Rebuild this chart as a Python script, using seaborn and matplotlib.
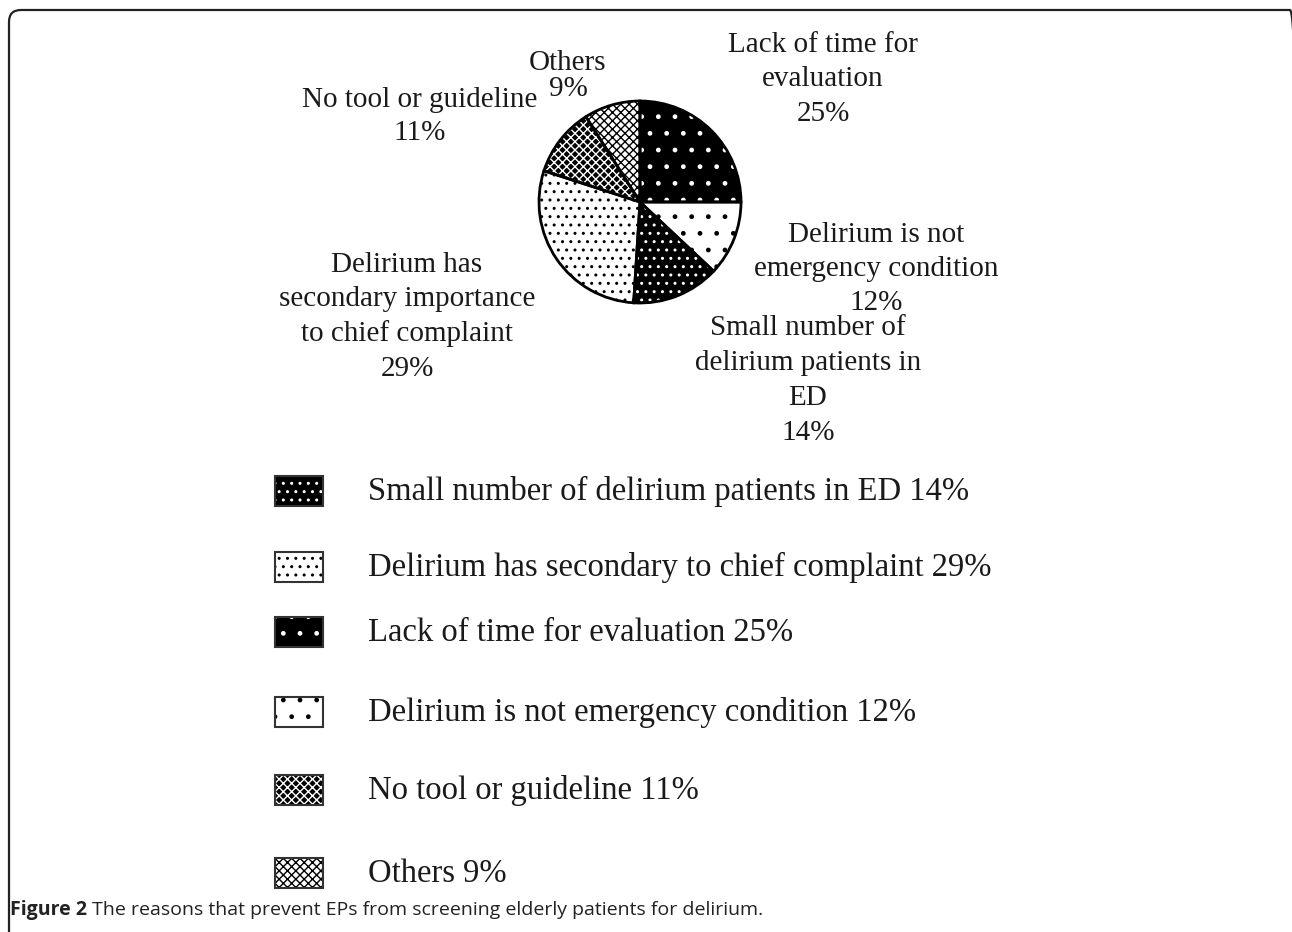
import matplotlib
matplotlib.use("Agg")
import matplotlib.pyplot as plt
import seaborn as sns
from matplotlib.patches import Rectangle, FancyBboxPatch
from matplotlib.transforms import IdentityTransform

# pie data, clockwise from 12 o'clock
reasons = ["Lack of time for\nevaluation",
           "Delirium is not\nemergency condition",
           "Small number of\ndelirium patients in\nED",
           "Delirium has\nsecondary importance\nto chief complaint",
           "No tool or guideline",
           "Others"]
shares = [25, 12, 14, 29, 11, 9]

# legend (its own wording and order)
legend_idx = [2, 3, 0, 1, 4, 5]
legend_names = ["Small number of delirium patients in ED",
                "Delirium has secondary to chief complaint",
                "Lack of time for evaluation",
                "Delirium is not emergency condition",
                "No tool or guideline",
                "Others"]

caption_bold = "Figure 2"
caption_rest = " The reasons that prevent EPs from screening elderly patients for delirium."

# face colour, hatch colour, hatch per slice
fills = [("black", "white", "."),
         ("white", "black", "."),
         ("black", "white", ".."),
         ("white", "black", ".."),
         ("black", "white", "xxxx"),
         ("white", "black", "xxxx")]

W, H = 1292, 932
SERIF = ["Liberation Serif", "DejaVu Serif"]
SANS = ["Open Sans", "DejaVu Sans"]

sns.set_theme(style="white")
plt.rcParams["hatch.linewidth"] = 1.0

fig = plt.figure(figsize=(W / 100, H / 100), dpi=100)
fig.patch.set_facecolor("white")


def fx(x):
    return x / W


def fy(y):
    return 1 - y / H


# rounded frame of the figure panel (right and bottom edges run off the page)
fig.add_artist(FancyBboxPatch((9, -40), 1293, H - 10 + 40,
                              boxstyle="round,pad=0,rounding_size=12",
                              transform=IdentityTransform(), fill=False,
                              lw=1.6, ec="#222222"))

# pie
cx, cy = 640, 202
ax = fig.add_axes([fx(cx - 110), fy(cy + 110), 220 / W, 220 / H])
wedges, _ = ax.pie(shares, startangle=90, counterclock=False, radius=1.01)
for w, (fc, hc, hatch) in zip(wedges, fills):
    w.set_facecolor(fc)
    w.set_edgecolor(hc)
    w.set_hatch(hatch)
    w.set_linewidth(0)
outline, _ = ax.pie(shares, startangle=90, counterclock=False, radius=1.01,
                    wedgeprops=dict(fill=False, edgecolor="black", linewidth=2))
ax.set_xlim(-1.1, 1.1)
ax.set_ylim(-1.1, 1.1)
ax.set_aspect("equal")
ax.axis("off")

# slice labels: centre x, first baseline, line gap (pixels)
label_pos = [(823, 52, 34.5), (876, 242, 34), (808, 335, 35),
             (407, 272, 34.5), (420, 107, 33), (568, 70, 26)]
for name, val, (x, y0, gap) in zip(reasons, shares, label_pos):
    lines = name.split("\n") + [f"{val}%"]
    for i, line in enumerate(lines):
        fig.text(fx(x), fy(y0 + i * gap), line, ha="center", va="baseline",
                 fontsize=21, family=SERIF, color="#1a1a1a")

# legend rows
row_y = [491, 567, 632, 712, 790, 873]
for k, (i, name) in enumerate(zip(legend_idx, legend_names)):
    fc, hc, hatch = fills[i]
    y = row_y[k]
    fig.add_artist(Rectangle((fx(275), fy(y + 15)), 48 / W, 30 / H,
                             facecolor=fc, edgecolor=hc, hatch=hatch, lw=0))
    fig.add_artist(Rectangle((fx(275), fy(y + 15)), 48 / W, 30 / H,
                             fill=False, edgecolor="#333333", lw=1.5))
    fig.text(fx(368), fy(y + 9), f"{name} {shares[i]}%", ha="left",
             va="baseline", fontsize=23.5, family=SERIF, color="#1a1a1a")

# caption
t1 = fig.text(fx(10), fy(915), caption_bold, ha="left", va="baseline",
              fontsize=14, fontweight="bold", family=SANS, color="#222222")
fig.canvas.draw()
bb = t1.get_window_extent()
fig.text(bb.x1 / W, fy(915), caption_rest, ha="left", va="baseline",
         fontsize=14, family=SANS, color="#222222")

fig.savefig("out.png", dpi=100)
